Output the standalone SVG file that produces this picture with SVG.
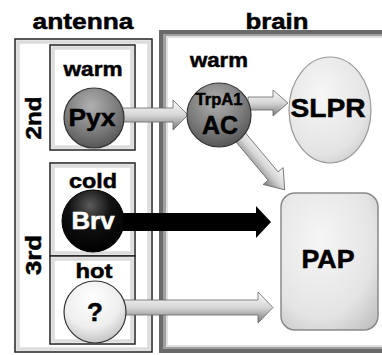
<svg xmlns="http://www.w3.org/2000/svg" width="382" height="355" viewBox="0 0 382 355">
<style>
text{font-family:"Liberation Sans",Arial,sans-serif;font-weight:bold;fill:#000;stroke:#000;stroke-width:0.5;text-anchor:middle}
.box{fill:#fff;stroke:#222;stroke-width:1.5}
.bevel{fill:none;stroke:#dcdcdc;stroke-width:3.5}
.arr{fill:url(#ag);stroke:#666;stroke-width:0.8}
</style>
<defs>
<linearGradient id="ag" x1="0" y1="0" x2="0" y2="1">
<stop offset="0" stop-color="#fdfdfd"/><stop offset="0.5" stop-color="#d6d6d6"/><stop offset="1" stop-color="#7a7a7a"/>
</linearGradient>
<radialGradient id="gg" cx="0.45" cy="0.3" r="0.75">
<stop offset="0" stop-color="#b0b0b0"/><stop offset="0.6" stop-color="#7a7a7a"/><stop offset="1" stop-color="#505050"/>
</radialGradient>
<radialGradient id="bg" cx="0.45" cy="0.25" r="0.75">
<stop offset="0" stop-color="#5a5a5a"/><stop offset="0.45" stop-color="#111"/><stop offset="1" stop-color="#000"/>
</radialGradient>
<radialGradient id="wg" cx="0.45" cy="0.3" r="0.75">
<stop offset="0" stop-color="#ffffff"/><stop offset="0.6" stop-color="#eeeeee"/><stop offset="1" stop-color="#bdbdbd"/>
</radialGradient>
<radialGradient id="lg" cx="0.4" cy="0.35" r="0.8">
<stop offset="0" stop-color="#f6f6f6"/><stop offset="0.7" stop-color="#e4e4e4"/><stop offset="1" stop-color="#c4c4c4"/>
</radialGradient>
</defs>

<g id="titles">
<text x="83" y="29" font-size="22" textLength="101" lengthAdjust="spacingAndGlyphs">antenna</text>
<text x="277" y="29" font-size="22" textLength="63" lengthAdjust="spacingAndGlyphs">brain</text>
</g>

<g id="antenna">
<rect class="box" x="15" y="39" width="137" height="313"/>
<rect class="bevel" x="18" y="42" width="131" height="307"/>
<text transform="translate(41,118) rotate(-90)" font-size="22" textLength="43" lengthAdjust="spacingAndGlyphs">2nd</text>
<text transform="translate(41,255) rotate(-90)" font-size="22" textLength="40" lengthAdjust="spacingAndGlyphs">3rd</text>
</g>

<g id="brain">
<rect x="159" y="30" width="240" height="323" fill="#6a6a6a"/>
<rect x="163" y="34" width="236" height="315" fill="#a0a0a0"/>
<rect x="167" y="37" width="230" height="309" fill="#fff" stroke="#e0e0e0" stroke-width="2"/>
</g>

<g id="warm-box">
<rect class="box" x="50" y="45" width="85" height="105"/>
<rect class="bevel" x="53" y="48" width="79" height="99"/>
<text x="93" y="76" font-size="21" textLength="59" lengthAdjust="spacingAndGlyphs">warm</text>
</g>
<g id="cold-box">
<rect class="box" x="50" y="163" width="85" height="93"/>
<rect class="bevel" x="53" y="166" width="79" height="87"/>
<text x="93" y="188" font-size="21" textLength="48" lengthAdjust="spacingAndGlyphs">cold</text>
</g>
<g id="hot-box">
<rect class="box" x="50" y="256" width="85" height="88"/>
<rect class="bevel" x="53" y="259" width="79" height="82"/>
<text x="94" y="278" font-size="21" textLength="37" lengthAdjust="spacingAndGlyphs">hot</text>
</g>

<g id="connectors">
<polygon class="arr" points="122,108 173,108 173,100 188,115 173,130 173,122 122,122"/>
<polygon class="arr" points="248,97 273,97 273,90 288,103 273,116 273,110 248,110"/>
<polygon class="arr" transform="translate(232,127) rotate(50)" points="0,-6.5 64,-6.5 64,-13 82,0 64,13 64,6.5 0,6.5"/>
<polygon fill="#000" points="120,213 256,213 256,206 271,222 256,238 256,231 120,231"/>
<polygon class="arr" points="124,300 258,300 258,292 273,307.5 258,323 258,315 124,315"/>
</g>

<g id="Pyx">
<circle cx="94" cy="118" r="30" fill="url(#gg)" stroke="#333" stroke-width="1.2"/>
<text x="92" y="126" font-size="23" textLength="47" lengthAdjust="spacingAndGlyphs">Pyx</text>
</g>
<g id="Brv">
<circle cx="93" cy="221" r="31" fill="url(#bg)" stroke="#000"/>
<text x="93" y="229" font-size="23" textLength="43" lengthAdjust="spacingAndGlyphs" style="fill:#fff;stroke:#fff">Brv</text>
</g>
<g id="hot-unknown">
<circle cx="95" cy="312" r="31" fill="url(#wg)" stroke="#333" stroke-width="1.2"/>
<text x="95" y="321" font-size="26">?</text>
</g>

<g id="AC">
<text x="219" y="67" font-size="21" textLength="58" lengthAdjust="spacingAndGlyphs">warm</text>
<circle cx="219" cy="115" r="32" fill="url(#gg)" stroke="#333" stroke-width="1.2"/>
<text x="219" y="105" font-size="16" textLength="47" lengthAdjust="spacingAndGlyphs">TrpA1</text>
<text x="220" y="134" font-size="26" textLength="36" lengthAdjust="spacingAndGlyphs">AC</text>
</g>
<g id="SLPR">
<ellipse cx="330" cy="110" rx="41" ry="53" fill="url(#lg)" stroke="#9a9a9a" stroke-width="1.2"/>
<text x="328" y="117" font-size="26" textLength="75" lengthAdjust="spacingAndGlyphs">SLPR</text>
</g>
<g id="PAP">
<rect x="281" y="193" width="97" height="137" rx="14" fill="url(#lg)" stroke="#8a8a8a" stroke-width="1.5"/>
<text x="328" y="268" font-size="25" textLength="53" lengthAdjust="spacingAndGlyphs">PAP</text>
</g>
</svg>
